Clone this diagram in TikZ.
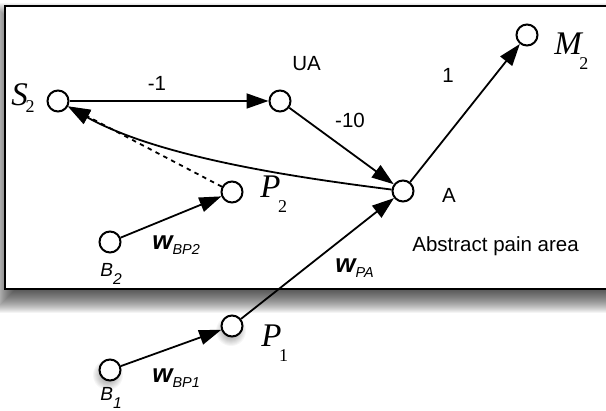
\documentclass[tikz,border=0pt]{standalone}
\usepackage{fontspec}
\setmainfont{Liberation Serif}
\setsansfont{Liberation Sans}
\usetikzlibrary{arrows.meta}

% italic serif symbol with a low, upright subscript
\newcommand\mlab[3][7.5pt]{{\fontsize{16.5}{19}\selectfont\itshape #2}\kern-1.2pt\raisebox{-#1}{\fontsize{9}{10}\selectfont #3}}
% oblique sans letter with oblique subscript
\newcommand\slab[2]{{\sffamily\itshape\fontsize{9.5}{11}\selectfont #1}\raisebox{-4pt}{\sffamily\itshape\fontsize{7.8}{9}\selectfont #2}}
% weight label w with subscript
\newcommand\wlab[1]{{\sffamily\bfseries\itshape\fontsize{13}{15}\selectfont w}\raisebox{-2.5pt}{\sffamily\itshape\fontsize{7.2}{8}\selectfont #1}}

\tikzset{
  neuron/.style={circle, draw, line width=1pt, minimum size=10.5pt, inner sep=0pt, fill=white},
  link/.style={line width=0.9pt, -{Triangle[length=11pt,width=7.5pt]}},
  txt/.style={font=\sffamily\fontsize{10.25}{12}\selectfont, inner sep=0pt, anchor=base},
  lbl/.style={inner sep=0pt, anchor=base west},
}

\begin{document}
\begin{tikzpicture}[x=0.5pt, y=-0.5pt]
  \useasboundingbox (0,0) rectangle (606,411);
  \begin{scope}
    \clip (0,0) rectangle (606,411);
    % soft drop shadow of the area box
    \foreach \r in {-14,...,13}
      \fill[black, opacity=0.042] (5-\r,16-\r) rectangle (630+\r,300+\r);
    % the area box
    \draw[line width=1pt, fill=white] (5,6) rectangle (630,289);
  \end{scope}

  % soft shadows under the two outside units
  \foreach \r in {4,5,...,15} {
    \fill[black, opacity=0.035] (231,331) circle[radius=\r];
    \fill[black, opacity=0.035] (108,375) circle[radius=\r];
  }

  % units
  \node[neuron] (S2) at (58,101) {};
  \node[neuron] (UA) at (280,101) {};
  \node[neuron] (A)  at (403,191) {};
  \node[neuron] (M2) at (527,35) {};
  \node[neuron] (P2) at (232,192) {};
  \node[neuron] (B2) at (110,242) {};
  \node[neuron] (P1) at (232,326) {};
  \node[neuron] (B1) at (110,370) {};

  % unit labels
  \node[lbl] (lS2) at (11,106) {\mlab[3.5pt]{S}{2}};
  \node[txt, anchor=base west] (lUA) at (292,71) {UA};
  \node[txt] (lA) at (449,203) {A};
  \node[lbl] (lM2) at (554,55) {\mlab{M}{2}};
  \node[lbl] (lP2) at (260,198) {\mlab{P}{2}};
  \node[lbl] (lP1) at (261,347) {\mlab{P}{1}};
  \node[lbl] (lB2) at (100,277) {\slab{B}{2}};
  \node[lbl] (lB1) at (100,401) {\slab{B}{1}};

  % weight labels
  \node[txt] (wS) at (157,91) {-1};
  \node[txt] (wU) at (350,128) {-10};
  \node[txt] (wM) at (448,83) {1};
  \node[lbl] (wB2) at (152,250) {\wlab{BP2}};
  \node[lbl] (wB1) at (152,383) {\wlab{BP1}};
  \node[lbl] (wPA) at (335,273) {\wlab{PA}};
  \node[txt, anchor=base west] (area) at (412,252) {Abstract pain area};

  % connections
  \draw[link] (S2) -- (UA);
  \draw[link] (UA) -- (A);
  \draw[link] (A) -- (M2);
  \draw[link] (A) .. controls (300,178) and (160,158) .. (S2);
  \draw[link, dash pattern=on 2.2pt off 2.2pt] (P2) -- (S2);
  \draw[link] (B2) -- (P2);
  \draw[link] (B1) -- (P1);
  \draw[link] (P1) -- (A);
\end{tikzpicture}
\end{document}
